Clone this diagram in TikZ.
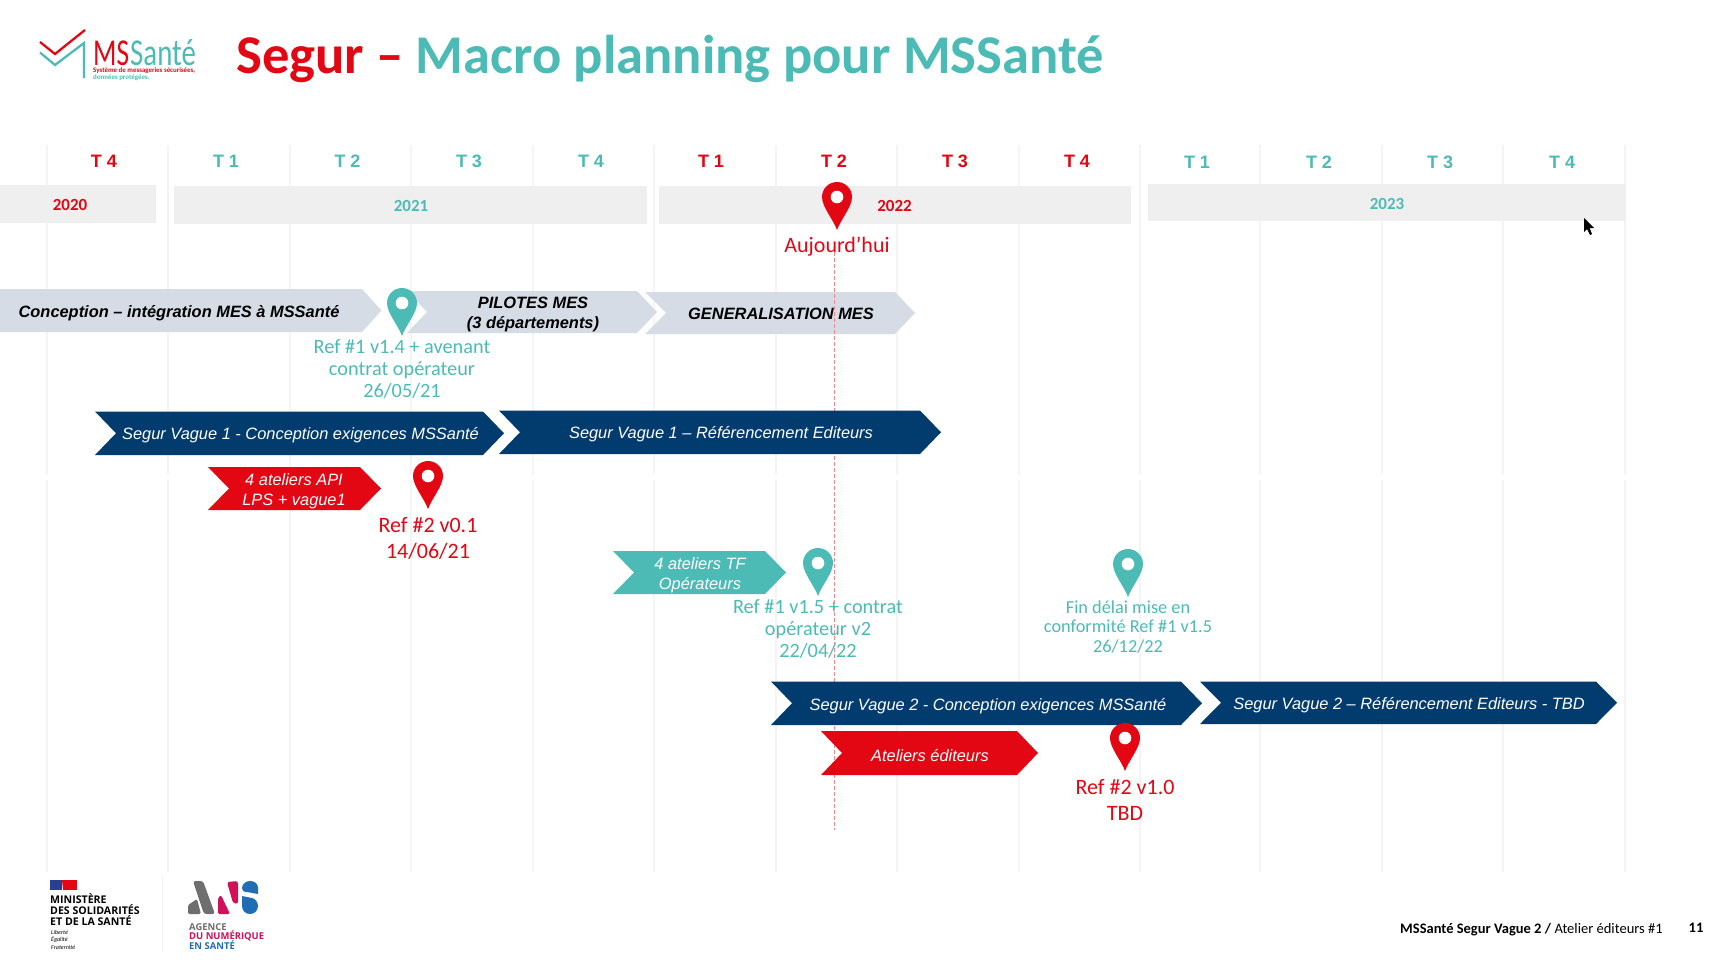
\documentclass[tikz,border=0pt]{standalone}
\usepackage{fontspec}
\setmainfont{Carlito}
\newfontfamily\arialf{Liberation Sans}
\newfontfamily\marf{Open Sans}
\definecolor{msred}{HTML}{E30613}
\definecolor{msteal}{HTML}{4DBBB5}
\definecolor{msnavy}{HTML}{023C6F}
\definecolor{msgrey}{HTML}{D6DCE5}
\definecolor{yearbg}{HTML}{EFEFEF}
\definecolor{gridc}{HTML}{F4F4F4}
\definecolor{dashc}{HTML}{F08A8A}
\definecolor{anspink}{HTML}{D1105A}
\definecolor{ansblue}{HTML}{1F6DB5}
\definecolor{ansgrey}{HTML}{6E6E6E}
\definecolor{flagblue}{HTML}{2A3F8F}
\tikzset{
  gridline/.style={draw=gridc,line width=1.6pt},
  yearbar/.style={fill=yearbg},
  trim/.style={font=\arialf\bfseries\fontsize{18}{20}\selectfont,inner sep=0pt},
  yearlab/.style={font=\bfseries\fontsize{17}{20}\selectfont,inner sep=0pt},
  bartext/.style={font=\arialf\itshape\fontsize{16.4}{20}\selectfont,inner sep=0pt,align=center,text=white},
  greytext/.style={font=\arialf\bfseries\itshape\fontsize{16.4}{20}\selectfont,inner sep=0pt,align=center,text=black},
  reftext/.style={font=\fontsize{20.3}{21.7}\selectfont,inner sep=0pt,align=center,text=msteal},
  redtext/.style={font=\fontsize{22}{26}\selectfont,inner sep=0pt,align=center,text=msred},
  foot/.style={inner sep=0pt,font=\fontsize{14.5}{16}\selectfont,text=black},
  anstext/.style={inner sep=0pt,anchor=base west,font=\marf\bfseries\fontsize{9.45}{10}\selectfont},
}
% left, right, top, bottom, colour
\newcommand{\chevbar}[5]{\fill[#5] (#1,#3) -- (#2,#3) -- ({#2+21},{(#3+#4)/2}) -- (#2,#4) -- (#1,#4) -- ({#1+21},{(#3+#4)/2}) -- cycle;}
% x, top, colour
\newcommand{\mappin}[3]{\begin{scope}[shift={(#1,#2)}]
  \fill[#3] (0,48) .. controls (-4,37) and (-15,25) .. (-15,15) .. controls (-15,6.7) and (-8.3,0) .. (0,0) .. controls (8.3,0) and (15,6.7) .. (15,15) .. controls (15,25) and (4,37) .. (0,48) -- cycle;
  \fill[white] (0,15) circle (6.3);
\end{scope}}
\begin{document}
\begin{tikzpicture}[x=1pt,y=-1pt]
\useasboundingbox (0,0) rectangle (1731,961);
\fill[white] (0,0) rectangle (1731,961);
% grid
\foreach \gx in {47,168,290,411,533,654,776,897,1019,1140,1260,1382,1503,1625}{
  \draw[gridline] (\gx,145) -- (\gx,475);
  \draw[gridline] (\gx,480) -- (\gx,872);
}
% years
\fill[yearbar] (0,185) rectangle (156,223);
\fill[yearbar] (174,186) rectangle (647,224);
\fill[yearbar] (659,186) rectangle (1131,224);
\fill[yearbar] (1148,184) rectangle (1626,221);
\node[yearlab,text=msred] (y20) at (70,205) {2020};
\node[yearlab,text=msteal] (y21) at (411,206) {2021};
\node[yearlab,text=msred] (y22) at (894.5,206) {2022};
\node[yearlab,text=msteal] (y23) at (1387,204) {2023};
% trimesters
\node[trim,text=msred] (t1) at (104,161) {T 4};
\node[trim,text=msteal] (t2) at (226,161) {T 1};
\node[trim,text=msteal] (t3) at (347.5,161) {T 2};
\node[trim,text=msteal] (t4) at (469,161) {T 3};
\node[trim,text=msteal] (t5) at (591,161) {T 4};
\node[trim,text=msred] (t6) at (711,161) {T 1};
\node[trim,text=msred] (t7) at (834,161) {T 2};
\node[trim,text=msred] (t8) at (955,161) {T 3};
\node[trim,text=msred] (t9) at (1077,161) {T 4};
\node[trim,text=msteal] (t10) at (1197,162) {T 1};
\node[trim,text=msteal] (t11) at (1319,162) {T 2};
\node[trim,text=msteal] (t12) at (1440,162) {T 3};
\node[trim,text=msteal] (t13) at (1562,162) {T 4};
% title
\node[inner sep=0pt,anchor=base west,font=\bfseries\fontsize{54.6}{60}\selectfont] (title) at (236,73) {\textcolor{msred}{Segur –} \textcolor{msteal}{Macro planning pour MSSanté}};
% MSSante logo
\draw[msred,line width=2.3pt] (40,42) -- (55,54) -- (85,30);
\draw[msteal,line width=2.3pt] (40,52.5) -- (55,65) -- (84,43) -- (84,78);
\node[inner sep=0pt,anchor=base west,text=msred,font=\fontsize{38}{38}\selectfont] (lgms) at (93,65.5) {\scalebox{.72}[1]{MS}};
\node[inner sep=0pt,anchor=base west,text=msteal,font=\fontsize{38}{38}\selectfont] (lgsante) at (130,65.5) {\scalebox{.76}[1]{Santé}};
\node[inner sep=0pt,anchor=base west,text=msred,font=\bfseries\fontsize{6.9}{7}\selectfont] (lgsub1) at (93,72.5) {Système de messageries sécurisées,};
\node[inner sep=0pt,anchor=base west,text=msteal,font=\bfseries\fontsize{6.9}{7}\selectfont] (lgsub2) at (93,79.5) {données protégées.};
% grey bars
\fill[msgrey] (0,289) -- (362,289) -- (381.5,310.5) -- (362,332) -- (0,332) -- cycle;
\fill[msgrey] (407,291) -- (637,291) -- (657,312) -- (637,333) -- (407,333) -- (427,312) -- cycle;
\fill[msgrey] (645,292) -- (895,292) -- (915,313) -- (895,334) -- (645,334) -- (666,313) -- cycle;
\node[greytext] (b1) at (179,313) {Conception – intégration MES à MSSanté};
\node[greytext] (b2) at (533,314) {PILOTES MES\\(3 départements)};
\node[greytext] (b3) at (781,314) {GENERALISATION MES};
% today line
\coordinate (dashtop) at (834.5,252);
\coordinate (dashbot) at (834.5,830);
\draw[dashc,line width=.9pt,dash pattern=on 4pt off 2pt] (dashtop) -- (dashbot);
% navy bars
\chevbar{95}{483}{411.5}{455}{msnavy}
\chevbar{499}{920}{410.5}{454}{msnavy}
\chevbar{771}{1181}{681.5}{725}{msnavy}
\chevbar{1200}{1596}{681.5}{724}{msnavy}
\node[bartext] (n1) at (300.5,435) {Segur Vague 1 - Conception exigences MSSanté};
\node[bartext] (n2) at (721,434) {Segur Vague 1 – Référencement Editeurs};
\node[bartext] (n3) at (988,706) {Segur Vague 2 - Conception exigences MSSanté};
\node[bartext] (n4) at (1409,705) {Segur Vague 2 – Référencement Editeurs - TBD};
% workshops
\chevbar{208}{360}{467}{510}{msred}
\chevbar{613}{765}{551}{594}{msteal}
\chevbar{821}{1017}{731}{775}{msred}
\node[bartext] (w1) at (294,491) {4 ateliers API\\LPS + vague1};
\node[bartext] (w2) at (700,575) {4 ateliers TF\\Opérateurs};
\node[bartext] (w3) at (930,756) {Ateliers éditeurs};
% pins
\mappin{402}{288}{msteal}
\mappin{428}{461}{msred}
\mappin{837}{182}{msred}
\mappin{818}{548}{msteal}
\mappin{1128}{549}{msteal}
\mappin{1125}{723}{msred}
\node[redtext] (today) at (837,247) {Aujourd’hui};
\node[reftext] (r1) at (402,369) {Ref \#1 v1.4 + avenant\\contrat opérateur\\26/05/21};
\node[redtext] (r2) at (428,538) {Ref \#2 v0.1\\14/06/21};
\node[reftext] (r3) at (818,629) {Ref \#1 v1.5 + contrat\\opérateur v2\\22/04/22};
\node[reftext,font=\fontsize{18.3}{19.7}\selectfont] (r4) at (1128,627) {Fin délai mise en\\conformité Ref \#1 v1.5\\26/12/22};
\node[redtext] (r5) at (1125,800) {Ref \#2 v1.0\\TBD};
% cursor
\fill[black] (1584,218) -- (1584,232) -- (1587,229) -- (1590,235) -- (1592,234) -- (1589.5,228) -- (1594,228) -- cycle;
% footer left
\fill[flagblue] (50,880) rectangle (62,890);
\fill[msred] (65,880) rectangle (77,890);
\fill[msred] (62,880) -- (65,880) -- (65,890) -- (63,890) -- cycle;
\node[inner sep=0pt,anchor=base west,align=left,font=\marf\bfseries\fontsize{10.6}{10.6}\selectfont] (min) at (50,925) {MINISTÈRE\\DES SOLIDARITÉS\\ET DE LA SANTÉ};
\node[inner sep=0pt,anchor=north west,align=left,font=\itshape\fontsize{6}{7.4}\selectfont] (dev) at (51,930) {Liberté\\Égalité\\Fraternité};
\draw[gridc,line width=.8pt] (162,875) -- (162,953);
% ANS logo
\fill[ansgrey,rounded corners=2.5pt] (193,881) -- (203,881) -- (215,914) -- (204,914) -- cycle;
\fill[ansgrey,rounded corners=1.5pt] (188,914) -- (188,905) -- (197,899) -- (201,914) -- cycle;
\fill[anspink,rounded corners=1.5pt] (218,898) -- (221,895) -- (230,914) -- (218,914) -- cycle;
\fill[anspink,rounded corners=2.5pt] (227,882) -- (238,881) -- (238,904) -- (233,903) -- cycle;
\fill[ansblue] (242,888) .. controls (242,884) and (246,881) .. (250,881) .. controls (255,881) and (258,884) .. (258,888) -- (258,894) -- (247,892) .. controls (243,892) and (242,890) .. (242,888) -- cycle;
\fill[ansblue] (242,896) -- (252,898) .. controls (256,899) and (258,903) .. (258,906) .. controls (258,911) and (254,914) .. (250,914) .. controls (246,914) and (242,911) .. (242,906) -- cycle;
\node[anstext,text=ansgrey] (a1) at (189,930) {AGENCE};
\node[anstext,text=anspink] (a2) at (189,939.5) {DU NUMÉRIQUE};
\node[anstext,text=ansblue] (a3) at (189,949) {EN SANTÉ};
% footer right
\node[foot,anchor=base west] (f1) at (1400,933) {\textbf{MSSanté Segur Vague 2 /} Atelier éditeurs \#1};
\node[foot,font=\bfseries\fontsize{14.5}{16}\selectfont] (f2) at (1696,928) {11};
\end{tikzpicture}
\end{document}
